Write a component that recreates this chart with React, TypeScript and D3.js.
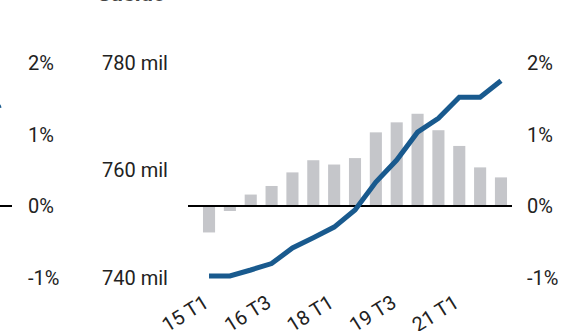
import React from "react";
import * as d3 from "d3";

const categories = ["15 T1","15 T3","16 T1","16 T3","17 T1","17 T3","18 T1","18 T3","19 T1","19 T3","20 T1","20 T3","21 T1","21 T3","22 T1"];
const growthPct = [-0.37,-0.07,0.16,0.28,0.47,0.64,0.58,0.67,1.03,1.17,1.29,1.06,0.84,0.54,0.40];
const levelMil = [740.3,740.3,741.4,742.6,745.5,747.4,749.4,752.6,757.8,761.9,767.1,769.7,773.6,773.6,776.7];
const pctTicks = [2,1,0,-1];
const milTicks = [780,760,740];
const shownLabels = ["15 T1","16 T3","18 T1","19 T3","21 T1"];

const W = 580, H = 331;
const FONT = "Roboto, 'Noto Sans', sans-serif";
const BAR = "#c5c6ca";
const LINE = "#195a8e";

export default function App() {
  const x = d3.scaleBand<string>().domain(categories).range([198.6, 511.4]).paddingInner(0.42).paddingOuter(0.21);
  const yPct = d3.scaleLinear().domain([-1, 2]).range([277.5, 63]);
  const yMil = d3.scaleLinear().domain([740, 780]).range([277.5, 63]);
  const cx = (c: string) => (x(c) as number) + x.bandwidth() / 2;
  const line = d3.line<number>().x((_, i) => cx(categories[i])).y((d) => yMil(d));
  const leftPct = d3.scaleLinear().domain([-1, 2]).range([277.5, 63]);

  return (
    <svg width={W} height={H} style={{ position: "absolute", left: 0, top: 0, background: "#fff" }} fontFamily={FONT}>
      {/* partial title cut off at top */}
      <text x={97} y={1} fontSize={22} fontWeight="bold" fill="#444">Sueldo</text>
      {/* partial neighbouring panel */}
      <line x1={0} x2={12} y1={yPct(0)} y2={yPct(0)} stroke="#000" strokeWidth={2} />
      <line x1={-4} x2={1} y1={108} y2={106} stroke={LINE} strokeWidth={3} />
      {pctTicks.map((t) => (
        <text key={"l" + t} x={28} y={leftPct(t)} dy="0.35em" fontSize={20} fill="#222">{t + "%"}</text>
      ))}
      {milTicks.map((t) => (
        <text key={"m" + t} x={102} y={yMil(t)} dy="0.35em" fontSize={20} fill="#222">{t + " mil"}</text>
      ))}
      {pctTicks.map((t) => (
        <text key={"r" + t} x={527} y={yPct(t)} dy="0.35em" fontSize={20} fill="#222">{t + "%"}</text>
      ))}
      {categories.map((c, i) => {
        const v = growthPct[i];
        return (
          <rect key={c} x={x(c)} width={x.bandwidth()} y={Math.min(yPct(v), yPct(0))} height={Math.abs(yPct(v) - yPct(0))} fill={BAR} />
        );
      })}
      <line x1={188} x2={512} y1={yPct(0)} y2={yPct(0)} stroke="#000" strokeWidth={2} />
      <path d={line(levelMil) || ""} fill="none" stroke={LINE} strokeWidth={5} strokeLinejoin="miter" />
      {shownLabels.map((c) => (
        <text key={"x" + c} transform={`translate(${cx(c) + 1},${306}) rotate(-32)`} textAnchor="end" fontSize={20} fill="#222">{c}</text>
      ))}
    </svg>
  );
}
